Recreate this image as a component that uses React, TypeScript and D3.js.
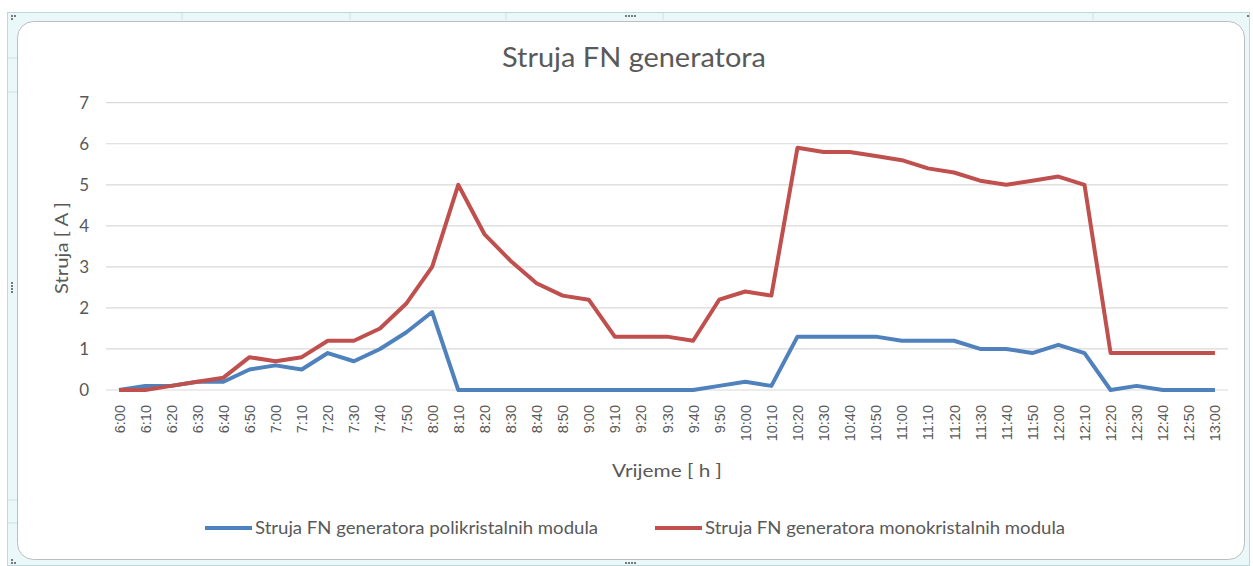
import React, { useEffect, useRef } from 'react';
import * as d3 from 'd3';

const times = [
  '6:00', '6:10', '6:20', '6:30', '6:40', '6:50', '7:00', '7:10', '7:20', '7:30', '7:40', '7:50',
  '8:00', '8:10', '8:20', '8:30', '8:40', '8:50', '9:00', '9:10', '9:20', '9:30', '9:40', '9:50',
  '10:00', '10:10', '10:20', '10:30', '10:40', '10:50', '11:00', '11:10', '11:20', '11:30', '11:40', '11:50',
  '12:00', '12:10', '12:20', '12:30', '12:40', '12:50', '13:00'
];

const poly = [
  0, 0.1, 0.1, 0.2, 0.2, 0.5, 0.6, 0.5, 0.9, 0.7, 1.0, 1.4,
  1.9, 0, 0, 0, 0, 0, 0, 0, 0, 0, 0, 0.1,
  0.2, 0.1, 1.3, 1.3, 1.3, 1.3, 1.2, 1.2, 1.2, 1.0, 1.0, 0.9,
  1.1, 0.9, 0, 0.1, 0, 0, 0
];

const mono = [
  0, 0, 0.1, 0.2, 0.3, 0.8, 0.7, 0.8, 1.2, 1.2, 1.5, 2.1,
  3.0, 5.0, 3.8, 3.15, 2.6, 2.3, 2.2, 1.3, 1.3, 1.3, 1.2, 2.2,
  2.4, 2.3, 5.9, 5.8, 5.8, 5.7, 5.6, 5.4, 5.3, 5.1, 5.0, 5.1,
  5.2, 5.0, 0.9, 0.9, 0.9, 0.9, 0.9
];

const yTicks = [0, 1, 2, 3, 4, 5, 6, 7];

const seriesNames = [
  'Struja FN generatora polikristalnih modula',
  'Struja FN generatora monokristalnih modula'
];
const colors = ['#4f81bd', '#c0504d'];

const W = 1253;
const H = 566;
const font = 'Lato, "Open Sans", sans-serif';
const txt = '#595959';

const App: React.FC = () => {
  const ref = useRef<SVGSVGElement | null>(null);

  useEffect(() => {
    if (!ref.current) return;
    const svg = d3.select(ref.current);
    svg.selectAll('*').remove();

    // excel-ish selection frame
    const frame = svg.append('g');
    frame.append('rect')
      .attr('x', 7.5).attr('y', 12.5).attr('width', 1242).attr('height', 553)
      .attr('fill', '#eaf8fa').attr('stroke', '#b9d9de');
    [182, 350, 506, 663, 1093].forEach(x => {
      frame.append('line').attr('x1', x).attr('x2', x).attr('y1', 13).attr('y2', 20)
        .attr('stroke', '#c6e2e6');
    });
    [58, 92, 500, 523].forEach(y => {
      frame.append('line').attr('x1', 8).attr('x2', 17).attr('y1', y).attr('y2', y)
        .attr('stroke', '#c6e2e6');
    });
    // handle dots
    const dots: [number, number][] = [
      [12, 16], [15, 16], [12, 19], [626, 16], [629, 16], [632, 16], [635, 16],
      [1248, 16], [12, 563], [15, 563], [12, 560], [626, 563], [629, 563], [632, 563], [635, 563],
      [12, 283], [12, 286], [12, 289], [12, 292]
    ];
    frame.selectAll('rect.dot').data(dots).join('rect')
      .attr('class', 'dot')
      .attr('x', d => d[0] - 1).attr('y', d => d[1] - 1)
      .attr('width', 2).attr('height', 2).attr('fill', '#7a7a7a');

    svg.append('rect')
      .attr('x', 17.5).attr('y', 21.5).attr('width', 1227).attr('height', 538)
      .attr('rx', 16).attr('ry', 16)
      .attr('fill', '#fff').attr('stroke', '#bdbdbd');

    const x = d3.scalePoint<string>().domain(times).range([106, 1228]).padding(0.5);
    const y = d3.scaleLinear().domain([0, 7]).range([390, 102.7]);

    // gridlines
    svg.append('g').selectAll('line').data(yTicks).join('line')
      .attr('x1', 106).attr('x2', 1228)
      .attr('y1', d => y(d)).attr('y2', d => y(d))
      .attr('stroke', '#d9d9d9').attr('stroke-width', 1.2);

    // y tick labels
    svg.append('g').selectAll('text').data(yTicks).join('text')
      .attr('x', 89).attr('y', d => y(d))
      .attr('dy', '0.35em').attr('text-anchor', 'end')
      .attr('font-family', font).attr('font-size', 17).attr('fill', txt)
      .text(d => d);

    // x tick labels
    svg.append('g').selectAll('text').data(times).join('text')
      .attr('transform', d => `translate(${x(d)! + 5.5},405) rotate(-90)`)
      .attr('text-anchor', 'end')
      .attr('font-family', '"Liberation Sans", Arial, sans-serif')
      .attr('font-size', 14.5).attr('fill', txt)
      .text(d => d);

    // lines
    const line = d3.line<number>()
      .x((_, i) => x(times[i])!)
      .y(d => y(d));
    [poly, mono].forEach((s, i) => {
      svg.append('path')
        .datum(s)
        .attr('d', line)
        .attr('fill', 'none')
        .attr('stroke', colors[i])
        .attr('stroke-width', 4)
        .attr('stroke-linejoin', 'round');
    });

    // title
    svg.append('text')
      .attr('x', 634).attr('y', 67)
      .attr('text-anchor', 'middle')
      .attr('font-family', font).attr('font-size', 27).attr('fill', txt)
      .attr('textLength', 264).attr('lengthAdjust', 'spacingAndGlyphs')
      .text('Struja FN generatora');

    // axis titles
    svg.append('text')
      .attr('transform', 'translate(68,248) rotate(-90)')
      .attr('text-anchor', 'middle')
      .attr('font-family', font).attr('font-size', 18).attr('fill', txt)
      .attr('textLength', 92).attr('lengthAdjust', 'spacingAndGlyphs')
      .text('Struja [ A ]');
    svg.append('text')
      .attr('x', 667).attr('y', 477)
      .attr('text-anchor', 'middle')
      .attr('font-family', font).attr('font-size', 18).attr('fill', txt)
      .attr('textLength', 110).attr('lengthAdjust', 'spacingAndGlyphs')
      .text('Vrijeme [ h ]');

    // legend
    const legX = [205, 655];
    const legLen = [343, 360];
    seriesNames.forEach((name, i) => {
      const g = svg.append('g').attr('transform', `translate(${legX[i]},528)`);
      g.append('line').attr('x1', 0).attr('x2', 47).attr('y1', 0).attr('y2', 0)
        .attr('stroke', colors[i]).attr('stroke-width', 4);
      g.append('text').attr('x', 50).attr('y', 0).attr('dy', '0.35em')
        .attr('font-family', font).attr('font-size', 17).attr('fill', txt)
        .attr('textLength', legLen[i]).attr('lengthAdjust', 'spacingAndGlyphs')
        .text(name);
    });
  }, []);

  return <svg ref={ref} width={W} height={H} style={{ position: 'absolute', left: 0, top: 0 }} />;
};

export default App;
